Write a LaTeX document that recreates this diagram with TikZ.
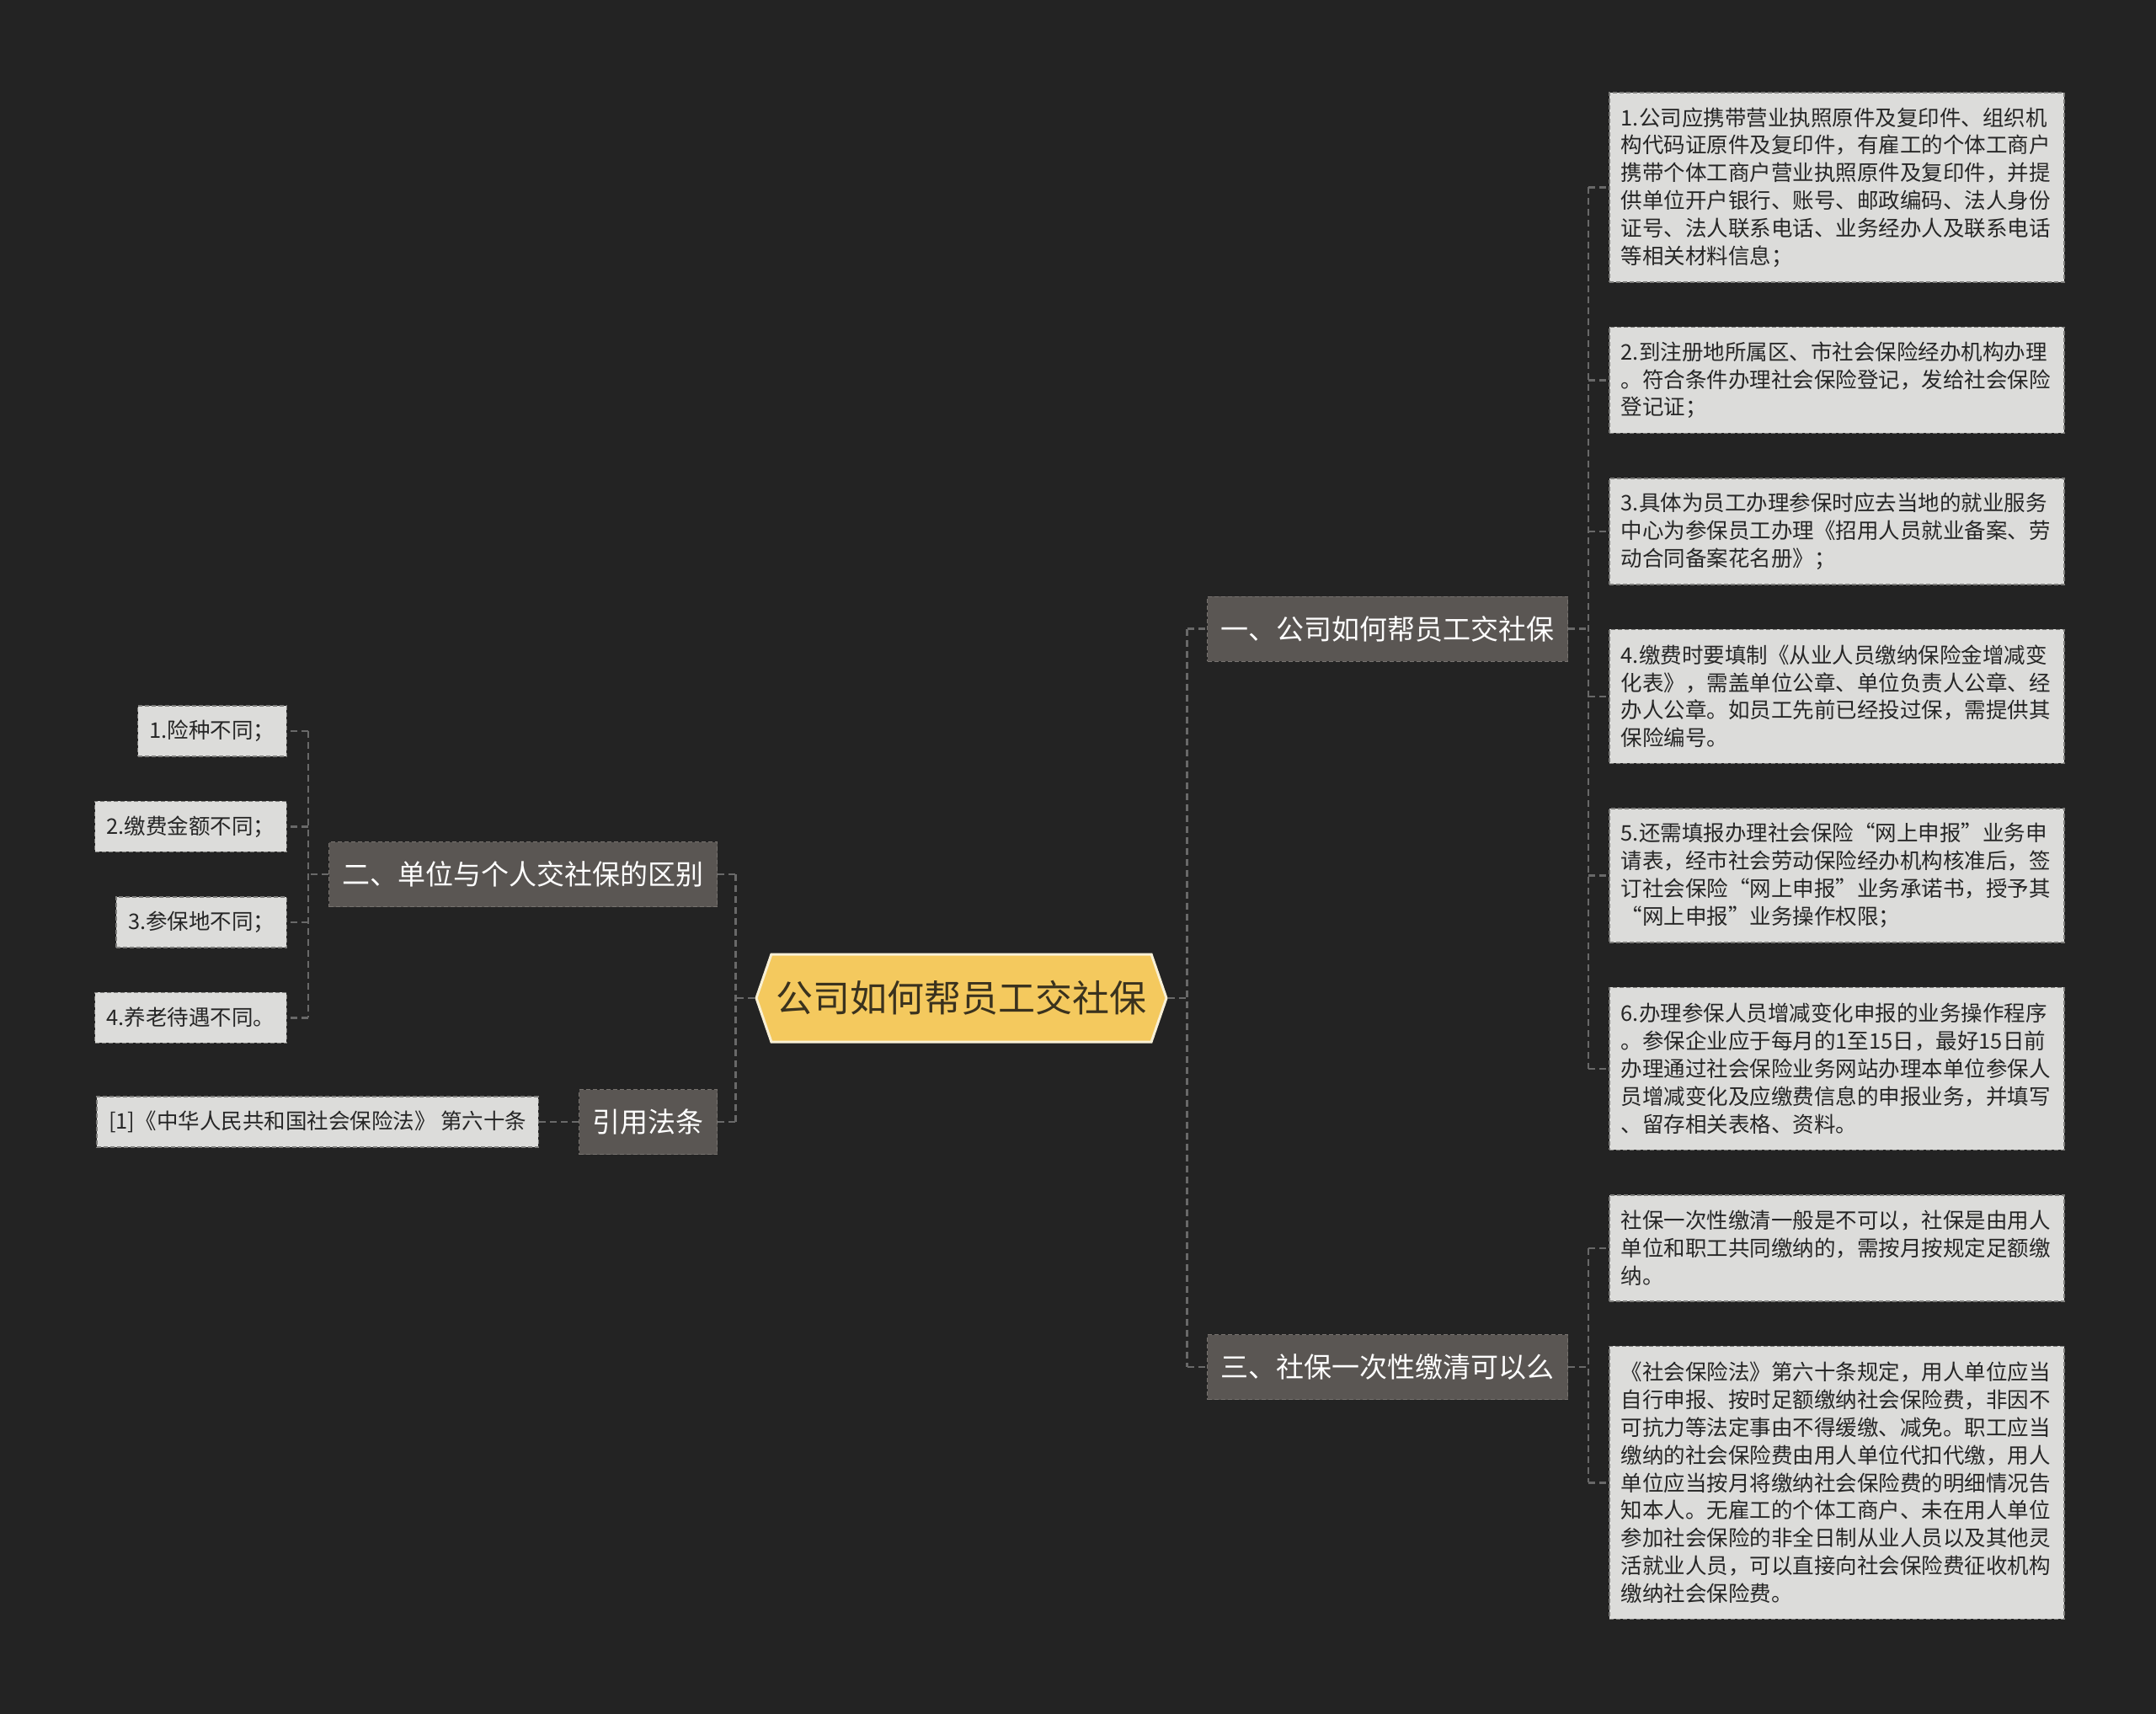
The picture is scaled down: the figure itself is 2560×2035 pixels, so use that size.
\documentclass[tikz,border=0pt]{standalone}
\usepackage{fontspec}
\newfontfamily\cjk{Noto Sans CJK SC}
\usepackage{tikz}
\usetikzlibrary{positioning,shapes.symbols}
\definecolor{bgdark}{RGB}{35,35,35}
\definecolor{leaffill}{RGB}{220,220,218}
\definecolor{leafedge}{RGB}{125,125,123}
\definecolor{leafink}{RGB}{38,38,38}
\definecolor{branchfill}{RGB}{90,86,83}
\definecolor{branchedge}{RGB}{118,114,110}
\definecolor{rootfill}{RGB}{244,201,94}
\definecolor{rootedge}{RGB}{248,240,214}
\definecolor{rootink}{RGB}{58,50,30}
\definecolor{linkgray}{RGB}{105,105,105}

\begin{document}
\begin{tikzpicture}[x=1pt, y=-1pt,
  root/.style={signal, signal to=west and east, signal pointer angle=142, draw=rootedge, line width=3pt, fill=rootfill, text=rootink, font=\cjk\fontsize{44}{52}\selectfont, minimum width=487pt, minimum height=104pt, inner sep=0pt},
  branch/.style={draw=branchedge, dash pattern=on 5pt off 3pt, line width=1pt, fill=branchfill, text=white, font=\cjk\fontsize{33}{40}\selectfont, minimum height=77pt, inner xsep=16pt},
  leaf/.style={draw=leafedge, dash pattern=on 5pt off 3pt, line width=1.5pt, fill=leaffill, text=leafink, font=\cjk\fontsize{25.5}{32.8}\selectfont, inner xsep=14pt, inner ysep=0pt, align=left},
  rleaf/.style={leaf, text width=512pt, minimum height=#1},
  lleaf/.style={leaf, minimum height=60pt},
  link/.style={draw=linkgray, line width=2.5pt, dash pattern=on 8pt off 5pt}
]
\fill[bgdark] (0,0) rectangle (2560,2035);

\node[root] (root) at (1141.5,1185) {公司如何帮员工交社保};

\node[branch, anchor=west] (b1) at (1433,746.5) {一、公司如何帮员工交社保};
\node[branch, anchor=west] (b3) at (1433,1623) {三、社保一次性缴清可以么};
\node[branch, anchor=east] (b2) at (852,1038) {二、单位与个人交社保的区别};
\node[branch, anchor=east] (b4) at (852,1332) {引用法条};

\node[rleaf=225pt, anchor=north west] (r1) at (1910,109) {1.公司应携带营业执照原件及复印件、组织机\\构代码证原件及复印件，有雇工的个体工商户\\携带个体工商户营业执照原件及复印件，并提\\供单位开户银行、账号、邮政编码、法人身份\\证号、法人联系电话、业务经办人及联系电话\\等相关材料信息；};
\node[rleaf=126pt, below=52pt of r1] (r2) {2.到注册地所属区、市社会保险经办机构办理\\。符合条件办理社会保险登记，发给社会保险\\登记证；};
\node[rleaf=126pt, below=52pt of r2] (r3) {3.具体为员工办理参保时应去当地的就业服务\\中心为参保员工办理《招用人员就业备案、劳\\动合同备案花名册》；};
\node[rleaf=159pt, below=52pt of r3] (r4) {4.缴费时要填制《从业人员缴纳保险金增减变\\化表》，需盖单位公章、单位负责人公章、经\\办人公章。如员工先前已经投过保，需提供其\\保险编号。};
\node[rleaf=159pt, below=52pt of r4] (r5) {5.还需填报办理社会保险“网上申报”业务申\\请表，经市社会劳动保险经办机构核准后，签\\订社会保险“网上申报”业务承诺书，授予其\\“网上申报”业务操作权限；};
\node[rleaf=193pt, below=52pt of r5] (r6) {6.办理参保人员增减变化申报的业务操作程序\\。参保企业应于每月的1至15日，最好15日前\\办理通过社会保险业务网站办理本单位参保人\\员增减变化及应缴费信息的申报业务，并填写\\、留存相关表格、资料。};
\node[rleaf=126pt, below=52pt of r6] (r7) {社保一次性缴清一般是不可以，社保是由用人\\单位和职工共同缴纳的，需按月按规定足额缴\\纳。};
\node[rleaf=324pt, below=52pt of r7] (r8) {《社会保险法》第六十条规定，用人单位应当\\自行申报、按时足额缴纳社会保险费，非因不\\可抗力等法定事由不得缓缴、减免。职工应当\\缴纳的社会保险费由用人单位代扣代缴，用人\\单位应当按月将缴纳社会保险费的明细情况告\\知本人。无雇工的个体工商户、未在用人单位\\参加社会保险的非全日制从业人员以及其他灵\\活就业人员，可以直接向社会保险费征收机构\\缴纳社会保险费。};

\node[lleaf, anchor=north east] (l1) at (341,837) {1.险种不同；};
\node[lleaf, below=52pt of l1.south east, anchor=north east] (l2) {2.缴费金额不同；};
\node[lleaf, below=52pt of l2.south east, anchor=north east] (l3) {3.参保地不同；};
\node[lleaf, below=52pt of l3.south east, anchor=north east] (l4) {4.养老待遇不同。};
\node[lleaf, left=47pt of b4] (law) {[1]《中华人民共和国社会保险法》 第六十条};

\coordinate (rsp) at ([xshift=23pt]root.east);
\coordinate (lsp) at ([xshift=-23pt]root.west);
\coordinate (asp) at ([xshift=24pt]b1.east);
\coordinate (csp) at ([xshift=24pt]b3.east);
\coordinate (bsp) at ([xshift=-24pt]b2.west);

\draw[link] (root.east) -- (rsp);
\draw[link] (rsp |- b1.west) -- (rsp |- b3.west);
\draw[link] (rsp |- b1.west) -- (b1.west);
\draw[link] (rsp |- b3.west) -- (b3.west);
\draw[link] (root.west) -- (lsp);
\draw[link] (lsp |- b2.east) -- (lsp |- b4.east);
\draw[link] (lsp |- b2.east) -- (b2.east);
\draw[link] (lsp |- b4.east) -- (b4.east);

\draw[link] (b1.east) -- (asp);
\draw[link] (asp |- r1.west) -- (asp |- r6.west);
\draw[link] (asp |- r1.west) -- (r1.west);
\draw[link] (asp |- r2.west) -- (r2.west);
\draw[link] (asp |- r3.west) -- (r3.west);
\draw[link] (asp |- r4.west) -- (r4.west);
\draw[link] (asp |- r5.west) -- (r5.west);
\draw[link] (asp |- r6.west) -- (r6.west);

\draw[link] (b3.east) -- (csp);
\draw[link] (csp |- r7.west) -- (csp |- r8.west);
\draw[link] (csp |- r7.west) -- (r7.west);
\draw[link] (csp |- r8.west) -- (r8.west);

\draw[link] (b2.west) -- (bsp);
\draw[link] (bsp |- l1.east) -- (bsp |- l4.east);
\draw[link] (bsp |- l1.east) -- (l1.east);
\draw[link] (bsp |- l2.east) -- (l2.east);
\draw[link] (bsp |- l3.east) -- (l3.east);
\draw[link] (bsp |- l4.east) -- (l4.east);

\draw[link] (b4.west) -- (law.east);
\end{tikzpicture}
\end{document}
